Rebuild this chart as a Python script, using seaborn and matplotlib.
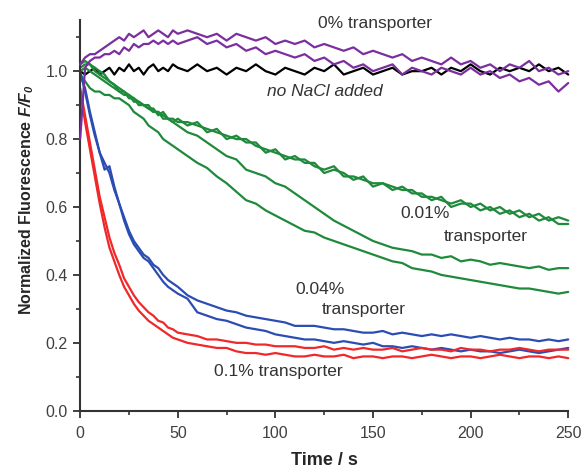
import numpy as np
import seaborn as sns
import matplotlib.pyplot as plt

# time grid (s): 2.5 s steps to 50 s, then 5 s steps
time = np.r_[np.arange(0, 50.1, 2.5), np.arange(55, 250.1, 5)]

no_nacl = [1.00, 0.99, 1.00, 1.01, 0.99, 1.00, 1.01, 0.99, 1.01, 1.00, 1.02, 1.00, 1.01, 0.99, 1.01, 1.02, 1.00, 1.01, 1.00, 1.02, 1.01,
           1.00, 1.02, 1.00, 1.01, 0.99, 1.01, 1.00, 1.02, 1.00, 0.99, 1.01, 1.00, 0.99, 1.01, 1.00, 1.02, 0.99, 1.00, 1.01, 0.99,
           1.00, 1.01, 0.99, 1.00, 1.00, 1.01, 0.99, 1.01, 1.00, 1.02, 1.00, 0.99, 1.01, 1.00, 1.01, 1.00, 1.02, 1.00, 1.01, 0.99]

purple_a = [1.02, 1.04, 1.05, 1.05, 1.06, 1.07, 1.08, 1.09, 1.10, 1.09, 1.11, 1.10, 1.11, 1.12, 1.10, 1.11, 1.12, 1.11, 1.10, 1.12, 1.11,
            1.12, 1.11, 1.10, 1.11, 1.09, 1.11, 1.10, 1.09, 1.10, 1.08, 1.09, 1.08, 1.09, 1.07, 1.08, 1.07, 1.06, 1.07, 1.05, 1.06,
            1.05, 1.04, 1.05, 1.03, 1.04, 1.03, 1.02, 1.04, 1.02, 1.03, 1.01, 1.02, 1.00, 1.02, 1.01, 1.03, 1.00, 1.01, 0.99, 1.00]
purple_b = [0.80, 1.01, 1.03, 1.04, 1.04, 1.05, 1.05, 1.06, 1.05, 1.07, 1.06, 1.08, 1.07, 1.08, 1.08, 1.09, 1.08, 1.09, 1.08, 1.09, 1.08,
            1.09, 1.10, 1.08, 1.09, 1.07, 1.08, 1.06, 1.07, 1.05, 1.06, 1.05, 1.04, 1.05, 1.03, 1.04, 1.02, 1.03, 1.01, 1.02, 1.00,
            1.01, 1.02, 0.99, 1.01, 1.00, 0.99, 1.01, 1.00, 0.99, 1.01, 0.99, 1.00, 0.98, 0.99, 0.97, 0.98, 0.96, 0.97, 0.94, 0.965]

green_a = [1.02, 1.03, 1.02, 1.01, 1.00, 0.99, 0.97, 0.96, 0.95, 0.94, 0.93, 0.92, 0.91, 0.90, 0.90, 0.88, 0.88, 0.87, 0.86, 0.86, 0.85,
           0.85, 0.84, 0.83, 0.82, 0.81, 0.80, 0.80, 0.78, 0.77, 0.76, 0.75, 0.74, 0.74, 0.72, 0.71, 0.72, 0.69, 0.69, 0.68, 0.67,
           0.67, 0.66, 0.65, 0.65, 0.63, 0.63, 0.62, 0.61, 0.62, 0.60, 0.61, 0.59, 0.60, 0.58, 0.59, 0.57, 0.58, 0.56, 0.57, 0.56]
green_b = [1.01, 1.02, 1.02, 1.00, 0.99, 0.98, 0.97, 0.96, 0.94, 0.94, 0.92, 0.92, 0.90, 0.90, 0.89, 0.89, 0.87, 0.88, 0.86, 0.85, 0.86,
           0.84, 0.85, 0.82, 0.83, 0.80, 0.81, 0.79, 0.79, 0.76, 0.77, 0.74, 0.75, 0.73, 0.73, 0.70, 0.71, 0.70, 0.68, 0.69, 0.66,
           0.67, 0.65, 0.66, 0.64, 0.64, 0.62, 0.63, 0.60, 0.61, 0.61, 0.59, 0.60, 0.58, 0.59, 0.57, 0.58, 0.56, 0.57, 0.55, 0.55]
green_c = [1.00, 1.01, 1.00, 0.99, 0.98, 0.97, 0.96, 0.95, 0.94, 0.93, 0.93, 0.91, 0.91, 0.90, 0.89, 0.88, 0.88, 0.86, 0.86, 0.85, 0.84,
           0.82, 0.81, 0.79, 0.77, 0.75, 0.74, 0.71, 0.70, 0.69, 0.67, 0.66, 0.64, 0.62, 0.60, 0.58, 0.56, 0.545, 0.53, 0.515, 0.50,
           0.49, 0.48, 0.475, 0.47, 0.46, 0.46, 0.45, 0.455, 0.44, 0.445, 0.44, 0.43, 0.435, 0.43, 0.425, 0.42, 0.425, 0.415, 0.42, 0.42]
green_d = [0.99, 0.97, 0.95, 0.94, 0.94, 0.93, 0.93, 0.92, 0.92, 0.91, 0.90, 0.88, 0.87, 0.86, 0.84, 0.83, 0.82, 0.80, 0.79, 0.78, 0.77,
           0.75, 0.73, 0.715, 0.69, 0.67, 0.645, 0.62, 0.61, 0.59, 0.575, 0.56, 0.545, 0.53, 0.525, 0.51, 0.50, 0.49, 0.48, 0.47, 0.46,
           0.45, 0.44, 0.435, 0.42, 0.415, 0.41, 0.40, 0.395, 0.39, 0.385, 0.38, 0.375, 0.37, 0.365, 0.36, 0.36, 0.355, 0.35, 0.345, 0.35]

blue_a = [1.00, 0.94, 0.87, 0.81, 0.76, 0.73, 0.70, 0.65, 0.61, 0.57, 0.53, 0.50, 0.48, 0.46, 0.45, 0.43, 0.42, 0.40, 0.385, 0.375, 0.365,
          0.34, 0.325, 0.315, 0.305, 0.295, 0.29, 0.28, 0.275, 0.27, 0.265, 0.26, 0.25, 0.25, 0.25, 0.245, 0.24, 0.24, 0.235, 0.23, 0.23,
          0.235, 0.225, 0.23, 0.225, 0.22, 0.225, 0.22, 0.225, 0.22, 0.215, 0.22, 0.215, 0.21, 0.215, 0.21, 0.21, 0.205, 0.21, 0.205, 0.21]
blue_b = [0.99, 0.95, 0.88, 0.82, 0.76, 0.71, 0.72, 0.66, 0.61, 0.56, 0.52, 0.49, 0.47, 0.45, 0.44, 0.42, 0.40, 0.38, 0.365, 0.355, 0.345,
          0.33, 0.29, 0.28, 0.27, 0.265, 0.255, 0.245, 0.24, 0.235, 0.225, 0.22, 0.215, 0.21, 0.21, 0.205, 0.20, 0.205, 0.20, 0.195, 0.20,
          0.19, 0.19, 0.185, 0.19, 0.185, 0.18, 0.185, 0.18, 0.175, 0.18, 0.175, 0.175, 0.17, 0.175, 0.18, 0.175, 0.17, 0.175, 0.18, 0.185]

red_a = [0.95, 0.87, 0.79, 0.71, 0.63, 0.57, 0.51, 0.465, 0.43, 0.39, 0.365, 0.34, 0.32, 0.305, 0.29, 0.28, 0.265, 0.26, 0.245, 0.24, 0.23,
         0.225, 0.22, 0.21, 0.21, 0.205, 0.20, 0.20, 0.195, 0.195, 0.19, 0.19, 0.19, 0.185, 0.185, 0.19, 0.18, 0.185, 0.18, 0.185, 0.18,
         0.18, 0.185, 0.175, 0.18, 0.185, 0.18, 0.18, 0.175, 0.185, 0.18, 0.18, 0.175, 0.18, 0.18, 0.185, 0.18, 0.175, 0.18, 0.18, 0.18]
red_b = [0.94, 0.85, 0.77, 0.69, 0.61, 0.54, 0.48, 0.44, 0.40, 0.365, 0.34, 0.315, 0.295, 0.28, 0.265, 0.255, 0.245, 0.235, 0.225, 0.215, 0.21,
         0.20, 0.195, 0.19, 0.185, 0.185, 0.175, 0.17, 0.17, 0.165, 0.17, 0.165, 0.16, 0.16, 0.165, 0.16, 0.16, 0.165, 0.155, 0.16, 0.16,
         0.155, 0.16, 0.16, 0.155, 0.16, 0.165, 0.16, 0.155, 0.16, 0.16, 0.155, 0.16, 0.165, 0.16, 0.155, 0.16, 0.16, 0.155, 0.16, 0.155]

sns.set_style('ticks')
plt.rcParams['font.family'] = ['Liberation Sans', 'DejaVu Sans']
plt.rcParams['mathtext.fontset'] = 'custom'
plt.rcParams['mathtext.bfit'] = 'Liberation Sans:bold:italic'
plt.rcParams['mathtext.it'] = 'Liberation Sans:italic'
plt.rcParams['mathtext.bf'] = 'Liberation Sans:bold'

fig, ax = plt.subplots(figsize=(5.81, 4.70), dpi=100)
fig.subplots_adjust(left=0.138, right=0.978, bottom=0.126, top=0.957)

purple, green, blue, red = '#7b2f9e', '#1f8a3c', '#2b4db3', '#f0282a'
curves = [
    (no_nacl, 'black', 2),
    (green_a, green, 2), (green_b, green, 2), (green_c, green, 2), (green_d, green, 2),
    (blue_a, blue, 2), (blue_b, blue, 2),
    (red_a, red, 2), (red_b, red, 2),
    (purple_a, purple, 3), (purple_b, purple, 3),
]
for vals, col, z in curves:
    sns.lineplot(x=time, y=vals, color=col, linewidth=1.6, ax=ax, clip_on=False, zorder=z)

ax.set_xlim(0, 250)
ax.set_ylim(0, 1.15)
ax.set_xticks([0, 50, 100, 150, 200, 250])
ax.set_xticks(np.arange(25, 250, 50), minor=True)
ax.set_yticks([0.0, 0.2, 0.4, 0.6, 0.8, 1.0])
ax.set_yticks([0.1, 0.3, 0.5, 0.7, 0.9, 1.1], minor=True)
ax.yaxis.set_major_formatter(plt.FormatStrFormatter('%.1f'))
ax.tick_params(which='major', direction='out', length=5, width=1.3, colors='#333333',
               labelsize=11.5, labelcolor='#404040', pad=4)
ax.tick_params(axis='x', which='major', pad=6)
ax.tick_params(which='minor', direction='out', length=3, width=1.2, colors='#333333')
sns.despine(ax=ax)
for s in ['left', 'bottom']:
    ax.spines[s].set_linewidth(1.5)
    ax.spines[s].set_color('#333333')

ax.set_xlabel('Time / s', fontsize=13, fontweight='bold')
ax.xaxis.set_label_coords(0.5, -0.105)
ax.set_ylabel(r'Normalized Fluorescence $\mathbfit{F/F_0}$', fontsize=11.5, fontweight='bold')
ax.yaxis.set_label_coords(-0.09, 0.54)

txt = dict(fontsize=12.5, color='#333333', ha='center', va='center')
ax.text(151, 1.14, '0% transporter', **txt)
ax.text(125.5, 0.94, 'no NaCl added', style='italic', **txt)
ax.text(176.5, 0.582, '0.01%', **txt)
ax.text(208, 0.512, 'transporter', **txt)
ax.text(123, 0.356, '0.04%', **txt)
ax.text(145.5, 0.297, 'transporter', **txt)
ax.text(101.7, 0.115, '0.1% transporter', **txt)

fig.savefig('out.png', dpi=100)
